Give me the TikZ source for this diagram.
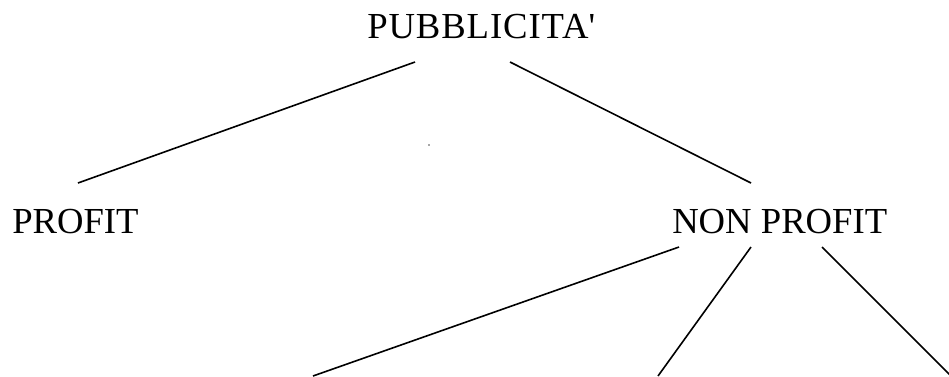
\documentclass[tikz,border=0pt]{standalone}
\usepackage{fontspec}
\setmainfont{Liberation Serif}
\tikzset{
  every node/.style={font=\fontsize{27.5}{32}\selectfont,inner sep=0pt},
  term/.style={anchor=base west},
  branch/.style={draw=black,line width=1.2pt},
}

\begin{document}
\begin{tikzpicture}[x=.75pt,y=-.75pt]           % pixel units, y down
\path[use as bounding box] (0,0) rectangle (949,376);

% the three labels
\node[term] (pub) at (367,38) {\addfontfeature{LetterSpace=2.5}PUBBLICITA\textquotesingle};
\node[term] (pro) at (12,233) {PROFIT};
\node[term] (non) at (672,233) {NON PROFIT};

% line ends next to the labels; the lower ones run off the page
\coordinate (pubL) at (415,62);
\coordinate (pubR) at (510,62);
\coordinate (proT) at (78,183);
\coordinate (nonT) at (751,183);
\coordinate (nonL) at (679,247);
\coordinate (nonM) at (751,247);
\coordinate (nonR) at (822,247);
\coordinate (outL) at (313,376);
\coordinate (outM) at (658,376);
\coordinate (outR) at (951,376);

\draw[branch] (pubL) -- (proT);
\draw[branch] (pubR) -- (nonT);
\draw[branch] (nonL) -- (outL);
\draw[branch] (nonM) -- (outM);
\draw[branch] (nonR) -- (outR);

\fill[black!70] (429,145) circle (.8);
\end{tikzpicture}
\end{document}
